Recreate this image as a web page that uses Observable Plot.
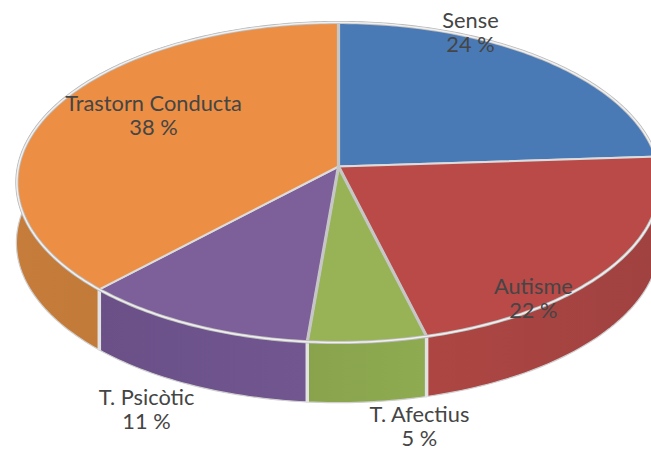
<!DOCTYPE html>
<html>
<head>
<meta charset="utf-8">
<script src="https://cdn.jsdelivr.net/npm/d3@7"></script>
<script src="https://cdn.jsdelivr.net/npm/@observablehq/plot@0.6"></script>
<style>
html,body{margin:0;padding:0;background:#fff;overflow:hidden}
</style>
</head>
<body>
<div id="chart"></div>
<script>
// Data
const categories = ["Sense", "Autisme", "T. Afectius", "T. Psicòtic", "Trastorn Conducta"];
const shares = [24, 22, 5.4, 10.8, 37.8];
const percentLabels = ["24 %", "22 %", "5 %", "11 %", "38 %"];
const topColors = ["#4a7ab5", "#b94a48", "#97b356", "#7d5f9a", "#ec8e43"];
const wallDark = ["#3f6a9e", "#a04240", "#88a34c", "#6a5087", "#b87232"];
const wallLight = ["#47729f", "#ad4643", "#8fab51", "#715690", "#c67d3b"];
// Label anchors in pie units
const labelX = [0.4125, 0.609, 0.253, -0.6, -0.578];
const labelY = [-0.846, 0.833, 1.64, 1.534, -0.32];

// Tilted disc geometry (pie units)
const tilt = 0.1;
const depth = 0.383;
function rim(share) {
  const a = share / 100 * 2 * Math.PI;
  const u = Math.sin(a), v = -Math.cos(a), w = 1 - tilt * v;
  return {x: u / w, y: v / w};
}
const starts = d3.cumsum([0, ...shares]);
function arc(i) {
  const s0 = starts[i], s1 = starts[i + 1];
  const n = Math.max(2, Math.ceil((s1 - s0) * 3));
  return d3.range(n + 1).map(k => rim(s0 + (s1 - s0) * k / n));
}
const faces = categories.flatMap((c, i) => [
  {slice: c, x: 0, y: 0},
  ...arc(i).map(p => ({slice: c, ...p}))
]);
const circle = d3.range(0, 100.01, 0.25).map(rim);
const seams = d3.range(2, 5).map(i => rim(starts[i]));
const wideSeams = [0, 2, 3].map(i => rim(starts[i]));
const labels = categories.map((c, i) => ({
  text: c + "\n" + percentLabels[i], x: labelX[i], y: labelY[i]
}));

const wallMarks = categories.map((c, i) =>
  Plot.areaY(arc(i), {
    x: "x", y1: "y", y2: d => d.y + depth,
    fill: `url(#wall${i})`, stroke: "#cfcfcf", strokeWidth: 1.2
  })
);

const defs = () => {
  const svg = d3.create("svg:defs");
  categories.forEach((c, i) => {
    const g = svg.append("linearGradient").attr("id", `wall${i}`).attr("x1", 0).attr("x2", 1).attr("y1", 0).attr("y2", 0);
    const left = i === 1 ? wallLight[i] : wallDark[i];
    const right = i === 1 ? wallDark[i] : wallLight[i];
    g.append("stop").attr("offset", "0%").attr("stop-color", i === 4 ? wallLight[i] : left);
    g.append("stop").attr("offset", "100%").attr("stop-color", i === 4 ? wallDark[i] : right);
  });
  return svg.node();
};

const chart = Plot.plot({
  width: 651,
  height: 450,
  margin: 0,
  x: {domain: [-1, 1], range: [18, 658], axis: null},
  y: {domain: [-1, 1], range: [7.6, 324.4], axis: null},
  color: {domain: categories, range: topColors},
  style: {background: "#fff", overflow: "hidden"},
  marks: [
    defs,
    ...wallMarks,
    Plot.link(seams, {
      x1: "x", x2: "x", y1: "y", y2: d => d.y + depth,
      stroke: "#e2e2e2", strokeWidth: 3.5
    }),
    Plot.line(faces, {
      x: "x", y: "y", z: "slice", fill: "slice",
      stroke: "#dcdcdc", strokeWidth: 2, curve: "linear-closed", strokeLinejoin: "round"
    }),
    Plot.link(wideSeams, {
      x1: () => 0, y1: () => 0, x2: "x", y2: "y",
      stroke: "#c6c6c6", strokeWidth: 3.2
    }),
    Plot.line(circle, {x: "x", y: "y", stroke: "#bcbcbc", strokeWidth: 3.2, curve: "linear-closed"}),
    Plot.line(circle, {x: "x", y: "y", stroke: "#f0f0f0", strokeWidth: 1.5, curve: "linear-closed"}),
    Plot.text(labels, {
      x: "x", y: "y", text: "text", fill: "#454545",
      fontFamily: "Lato, Carlito, sans-serif", fontSize: 21.8, lineHeight: 1.1, textAnchor: "middle"
    })
  ]
});
document.getElementById("chart").appendChild(chart);
</script>
</body>
</html>
